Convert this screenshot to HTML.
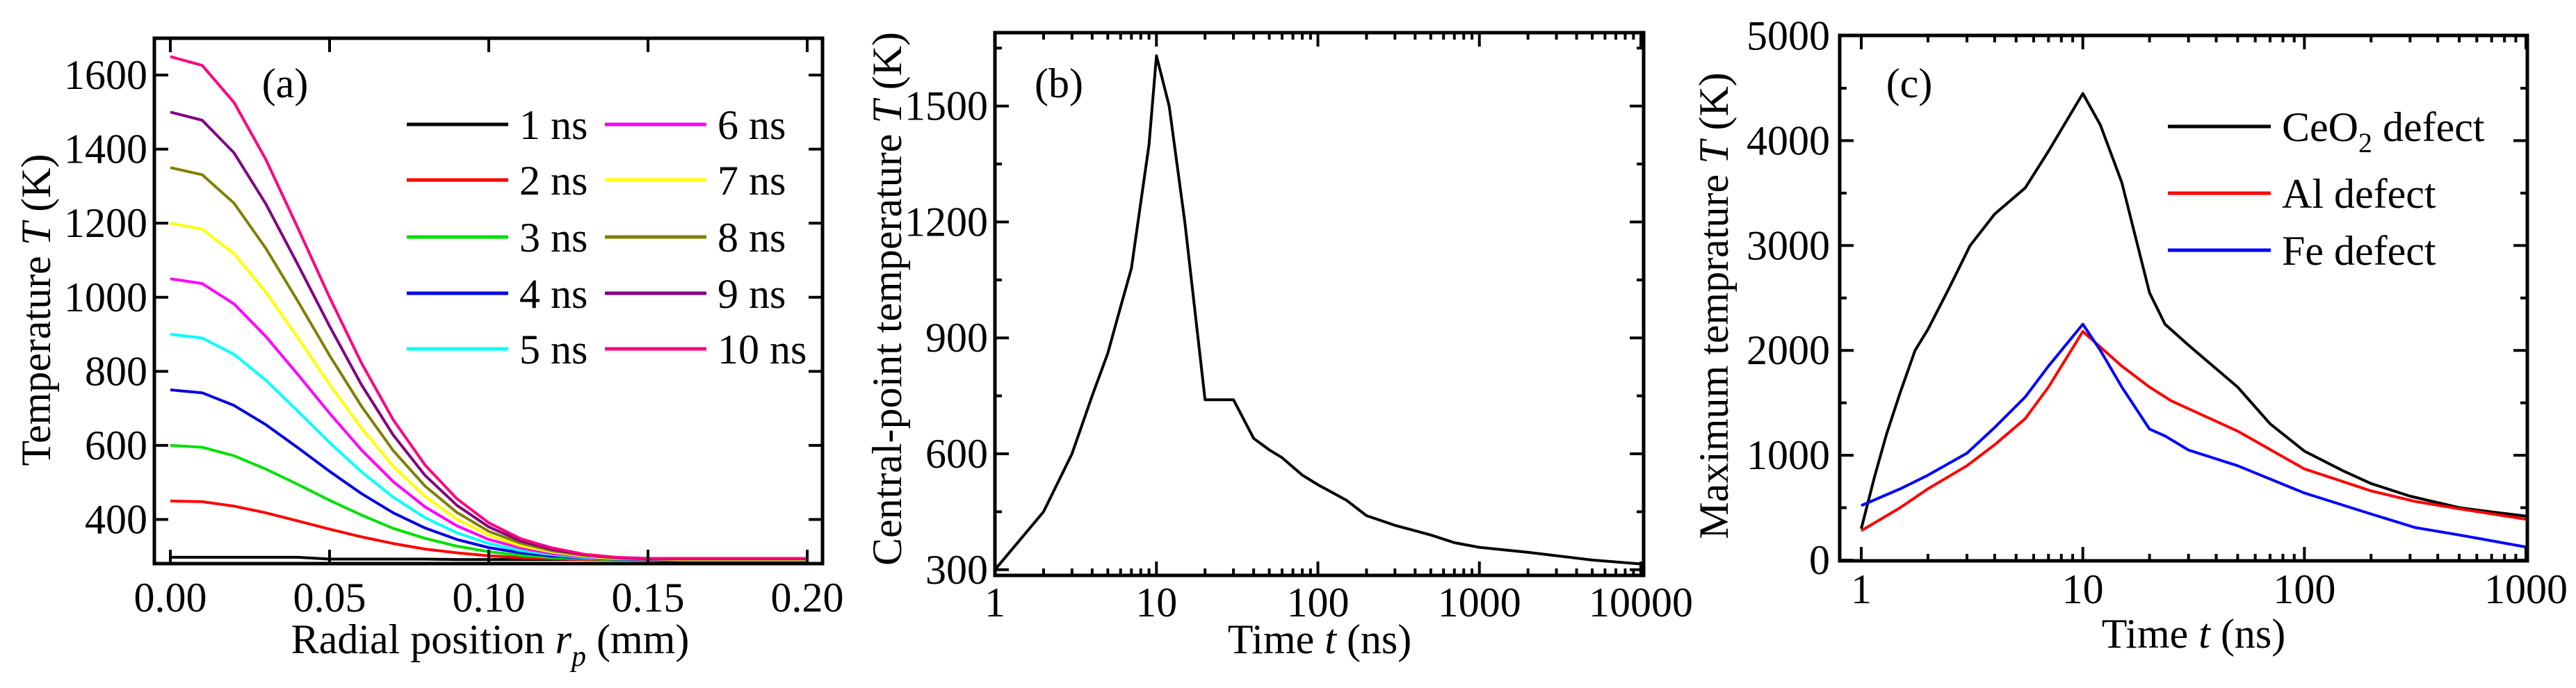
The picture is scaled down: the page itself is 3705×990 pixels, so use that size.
<!DOCTYPE html>
<html><head><meta charset="utf-8">
<style>
html,body{margin:0;padding:0;background:#fff;}
svg, svg text, svg tspan{font-family:"Liberation Serif","DejaVu Serif","Times New Roman",serif !important;}
</style></head>
<body>
<svg id="fig" width="3705" height="985" viewBox="0 0 3705 985" xmlns="http://www.w3.org/2000/svg" font-family="'Liberation Serif', 'DejaVu Serif', serif"></svg>
<script>
// ---- Panel (a) data ----
const aRadius = [0,0.01,0.02,0.03,0.04,0.05,0.06,0.07,0.08,0.09,0.10,0.11,0.12,0.13,0.14,0.15,0.16,0.17,0.18,0.19,0.20];
const aLabels = ["1 ns","2 ns","3 ns","4 ns","5 ns","6 ns","7 ns","8 ns","9 ns","10 ns"];
const aColors = ["#000000","#ff0000","#00e000","#0000e0","#00ffff","#ff00ff","#ffff00","#808000","#800080","#ff0080"];
const a1 = [298,298,298,298,298,293,293,293,293,292,292,292,292,292,291,291,291,291,291,291,291];
const a2 = [450,448,436,418,396,374,353,335,320,310,302,297,294,292,291,290,290,290,290,290,290];
const a3 = [600,595,572,536,495,452,412,376,349,328,313,303,297,294,292,290,290,290,290,290,290];
const a4 = [750,742,708,656,594,530,470,418,377,346,324,310,301,296,293,291,288,287,287,287,287];
const a5 = [900,890,846,776,693,608,529,460,405,364,335,316,305,297,294,292,290,290,290,290,290];
const a6 = [1050,1037,982,894,792,687,588,502,434,383,346,323,308,299,295,292,291,291,291,291,291];
const a7 = [1200,1184,1118,1014,891,765,647,544,462,401,357,329,312,301,295,293,292,292,292,292,292];
const a8 = [1350,1331,1254,1132,990,843,706,586,490,419,368,336,315,303,296,293,293,293,293,293,293];
const a9 = [1500,1478,1390,1252,1089,922,764,628,519,438,380,342,319,305,297,294,294,294,294,294,294];
const a10 = [1650,1626,1526,1372,1188,1000,823,669,547,456,391,348,323,306,298,295,295,295,295,295,295];
const aSeries = [a1,a2,a3,a4,a5,a6,a7,a8,a9,a10];
const aXTicks = [0,0.05,0.10,0.15,0.20];
const aXTickLabels = ["0.00","0.05","0.10","0.15","0.20"];
const aYTicks = [400,600,800,1000,1200,1400,1600];

// ---- Panel (b) data ----
const bTime = [1,2,3,4,5,6,7,8,9,10,12,15,20,30,40,50,60,80,100,150,200,300,500,700,1000,2000,5000,10000];
const bTemp = [300,450,600,750,860,980,1080,1250,1400,1630,1500,1200,740,740,640,610,590,545,520,480,440,415,390,370,358,345,325,315];
const bXTicks = [1,10,100,1000,10000];
const bXTickLabels = ["1","10","100","1000","10000"];
const bYTicks = [300,600,900,1200,1500];

// ---- Panel (c) data ----
const cCeTime = [1,1.15,1.3,1.5,1.75,2,2.5,3.1,4,5.5,7,10,12,15,20,23.5,30,50,70,100,150,200,300,500,700,1000];
const cCeTemp = [300,800,1200,1600,2000,2200,2600,3000,3300,3550,3900,4450,4150,3600,2550,2250,2050,1650,1300,1040,850,730,610,500,460,420];
const cAlTime = [1,1.5,2,3,4,5.5,7,10,15,20,25,50,100,200,316,500,1000];
const cAlTemp = [280,500,680,900,1100,1350,1650,2180,1850,1650,1520,1230,870,660,560,490,390];
const cFeTime = [1,1.5,2,3,4,5.5,7,10,12,15,20,23.5,30,50,100,200,316,500,1000];
const cFeTemp = [520,680,810,1020,1265,1556,1850,2250,2000,1650,1250,1184,1050,900,640,440,311,240,125];
const cXTicks = [1,10,100,1000];
const cXTickLabels = ["1","10","100","1000"];
const cYTicks = [0,1000,2000,3000,4000,5000];

const NS = "http://www.w3.org/2000/svg";
const svg = document.getElementById("fig");
function mk(tag, attrs, parent){
  const e = document.createElementNS(NS, tag);
  for (const k in attrs) e.setAttribute(k, attrs[k]);
  (parent||svg).appendChild(e);
  return e;
}
function linScale(d0,d1,r0,r1){return v=>r0+(v-d0)/(d1-d0)*(r1-r0);}
function logScale(d0,d1,r0,r1){return v=>r0+(Math.log10(v)-Math.log10(d0))/(Math.log10(d1)-Math.log10(d0))*(r1-r0);}
function pathFrom(xs,ys,sx,sy){
  return xs.map((x,i)=>(i?"L":"M")+sx(x).toFixed(1)+" "+sy(ys[i]).toFixed(1)).join(" ");
}
function frame(g,L,T,R,B){
  const r = mk("rect",{x:L,y:T,width:R-L,height:B-T,fill:"none",stroke:"#000","stroke-width":5},g);
  
  
}
function tickX(g,x,T,B,len){
  mk("line",{x1:x,y1:B,x2:x,y2:B-len,stroke:"#000","stroke-width":4},g);
  mk("line",{x1:x,y1:T,x2:x,y2:T+len,stroke:"#000","stroke-width":4},g);
}
function tickY(g,y,L,R,len){
  mk("line",{x1:L,y1:y,x2:L+len,y2:y,stroke:"#000","stroke-width":4},g);
  mk("line",{x1:R,y1:y,x2:R-len,y2:y,stroke:"#000","stroke-width":4},g);
}
function text(g,x,y,str,anchor,size){
  return mk("text",{x:x,y:y,"text-anchor":anchor||"middle","font-size":size||60,fill:"#000","font-family":"'Liberation Serif', 'DejaVu Serif', serif"},g);
}

// ================= Panel (a) =================
(function(){
  const L=222,T=55,R=1183,B=811;
  const g = mk("g",{});
  
  
  const sx = linScale(0,0.2,245,1161);
  const sy = linScale(400,1600,747.5,108);
  aSeries.forEach((s,i)=>{
    const p = mk("path",{d:pathFrom(aRadius,s,sx,sy),fill:"none",stroke:aColors[i],"stroke-width":4,"stroke-linejoin":"round"},g);
    
    
  });
  frame(g,L,T,R,B);
  aXTicks.forEach((v,i)=>{
    tickX(g,sx(v),T,B,20);
    const t = text(g,sx(v),880,aXTickLabels[i]);
    t.textContent = aXTickLabels[i];
    
    
  });
  aYTicks.forEach(v=>{
    tickY(g,sy(v),L,R,20);
    const t = text(g,212,sy(v)+20,"","end");
    t.textContent = v;
    
    
  });
  const xt = text(g,705,940,"");
  xt.innerHTML = 'Radial position <tspan font-style="italic">r</tspan><tspan font-style="italic" font-size="42" dy="18">p</tspan><tspan dy="-18"> (mm)</tspan>';
  
  
  const yt = text(g,0,0,"");
  yt.setAttribute("transform","translate(72,446) rotate(-90)");
  yt.innerHTML = 'Temperature <tspan font-style="italic">T</tspan> (K)';
  
  
  const pl = text(g,410,140,"");
  pl.textContent = "(a)";
  
  
  // legend
  const rows=[179,259,341,422,502];
  aLabels.forEach((lab,i)=>{
    const col = i<5?0:1, r = rows[i%5];
    const x0 = col?870:585, x1 = col?1016:731, tx = col?1032:747;
    const le = mk("g",{},g);
    
    
    mk("line",{x1:x0,y1:r,x2:x1,y2:r,stroke:aColors[i],"stroke-width":5},le);
    const t = text(le,tx,r+21,"","start");
    t.textContent = lab;
  });
})();

// ================= Panel (b) =================
(function(){
  const L=1431,T=47,R=2364,B=828;
  const g = mk("g",{});
  
  
  const sx = logScale(1,10000,1431,2360);
  const sy = linScale(600,1500,653,152.6);
  const p = mk("path",{d:pathFrom(bTime,bTemp,sx,sy),fill:"none",stroke:"#000","stroke-width":4,"stroke-linejoin":"round"},g);
  
  
  frame(g,L,T,R,B);
  for(let d=1; d<10000; d*=10){
    for(let m=2;m<10;m++) tickX(g,sx(d*m),T,B,10);
  }
  bXTicks.forEach((v,i)=>{
    tickX(g,sx(v),T,B,20);
    const t = text(g,sx(v),887,"");
    t.textContent = bXTickLabels[i];
    
    
  });
  for(let v=450; v<1700; v+=300) tickY(g,sy(v),L,R,10);
  bYTicks.forEach(v=>{
    tickY(g,sy(v),L,R,20);
    const t = text(g,1421,sy(v)+20,"","end");
    t.textContent = v;
    
    
  });
  const xt = text(g,1898,940,"");
  xt.innerHTML = 'Time <tspan font-style="italic">t</tspan> (ns)';
  
  
  const yt = text(g,0,0,"");
  yt.setAttribute("transform","translate(1296,430) rotate(-90)");
  yt.innerHTML = 'Central-point temperature <tspan font-style="italic">T</tspan> (K)';
  
  
  const pl = text(g,1523,140,"");
  pl.textContent = "(b)";
  
  
})();

// ================= Panel (c) =================
(function(){
  const L=2646,T=51,R=3635,B=807;
  const g = mk("g",{});
  
  
  const sx = logScale(1,1000,2677,3633);
  const sy = linScale(0,5000,806,51.5);
  const series = [[cCeTime,cCeTemp,"#000","ceo2-defect-curve"],[cAlTime,cAlTemp,"#ff0000","al-defect-curve"],[cFeTime,cFeTemp,"#0000ff","fe-defect-curve"]];
  series.forEach(s=>{
    const p = mk("path",{d:pathFrom(s[0],s[1],sx,sy),fill:"none",stroke:s[2],"stroke-width":4,"stroke-linejoin":"round"},g);
    
    
  });
  frame(g,L,T,R,B);
  for(let d=1; d<1000; d*=10){
    for(let m=2;m<10;m++) tickX(g,sx(d*m),T,B,10);
  }
  cXTicks.forEach((v,i)=>{
    tickX(g,sx(v),T,B,20);
    const t = text(g,sx(v),868,"");
    t.textContent = cXTickLabels[i];
    
    
  });
  for(let v=500; v<5000; v+=1000) tickY(g,sy(v),L,R,10);
  cYTicks.forEach(v=>{
    tickY(g,sy(v),L,R,20);
    const t = text(g,2632,sy(v)+20,"","end");
    t.textContent = v;
    
    
  });
  const xt = text(g,3155,932,"");
  xt.innerHTML = 'Time <tspan font-style="italic">t</tspan> (ns)';
  
  
  const yt = text(g,0,0,"");
  yt.setAttribute("transform","translate(2485,440) rotate(-90)");
  yt.innerHTML = 'Maximum temprature <tspan font-style="italic">T</tspan> (K)';
  
  
  const pl = text(g,2746,140,"");
  pl.textContent = "(c)";
  
  
  const leg = [[182,"#000",'CeO<tspan font-size="40" dy="16">2</tspan><tspan dy="-16"> defect</tspan>'],[278,"#ff0000","Al defect"],[360,"#0000ff","Fe defect"]];
  leg.forEach((l,i)=>{
    const le = mk("g",{},g);
    
    
    mk("line",{x1:3118,y1:l[0],x2:3266,y2:l[0],stroke:l[1],"stroke-width":5},le);
    const t = text(le,3282,l[0]+21,"","start");
    t.innerHTML = l[2];
  });
})();
</script>
</body></html>
